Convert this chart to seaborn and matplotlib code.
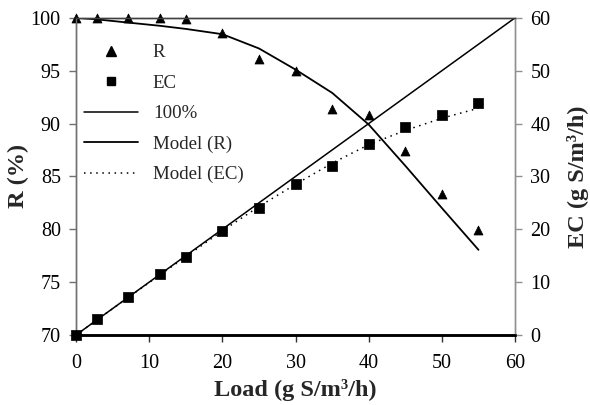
import matplotlib
matplotlib.use("Agg")
import matplotlib.pyplot as plt
import seaborn as sns
import pandas as pd
from matplotlib.lines import Line2D

load = [0, 2.9, 7.1, 11.4, 15, 20, 25, 30, 35, 40, 45, 50, 55]
r_obs = [100, 100, 100, 100, 99.9, 98.6, 96.1, 95.0, 91.4, 90.8, 87.4, 83.3, 79.9]
ec_obs = [0, 3.0, 7.2, 11.5, 14.8, 19.6, 24.1, 28.5, 32.0, 36.2, 39.4, 41.6, 43.8]
model_r = [100, 99.85, 99.55, 99.25, 98.95, 98.45, 97.1, 95.1, 92.9, 89.9, 86.0, 82.0, 78.05]
model_ec = [0, 2.9, 7.07, 11.3, 14.8, 19.7, 24.3, 28.5, 32.5, 36.0, 38.7, 41.0, 42.9]
line100_x = [0, 60]
line100_y = [0, 60]

sns.set_style("white")
plt.rcParams['font.family'] = ['Liberation Serif', 'DejaVu Serif']

df = pd.DataFrame({"load": load, "r": r_obs, "ec": ec_obs, "mr": model_r, "mec": model_ec})

fig, ax = plt.subplots(figsize=(5.9, 4.05), dpi=100)
fig.subplots_adjust(left=0.129, right=0.873, bottom=0.173, top=0.956)
ax2 = ax.twinx()

sns.lineplot(data=df, x="load", y="mr", ax=ax, color="black", lw=1.3, legend=False)
sns.scatterplot(data=df, x="load", y="r", ax=ax, marker="^", s=42, color="black",
                edgecolor="black", legend=False, zorder=5, clip_on=False)

sns.lineplot(x=line100_x, y=line100_y, ax=ax2, color="black", lw=1.1, legend=False)
sns.lineplot(data=df, x="load", y="mec", ax=ax2, color="black", lw=1.1,
             linestyle=(0, (1, 3)), legend=False)
sns.scatterplot(data=df, x="load", y="ec", ax=ax2, marker="s", s=42, color="black",
                edgecolor="black", legend=False, zorder=5, clip_on=False)

ax.set_xlim(0, 60)
ax.set_ylim(70, 100)
ax2.set_ylim(0, 60)
ax.set_xticks(range(0, 61, 10))
ax.set_yticks(range(70, 101, 5))
ax2.set_yticks(range(0, 61, 10))

ax.set_xlabel("Load (g S/m³/h)", fontsize=17.5, fontweight="bold", labelpad=4)
ax.set_ylabel("R (%)", fontsize=17.5, fontweight="bold", labelpad=1)
ax2.set_ylabel("EC (g S/m³/h)", fontsize=17.5, fontweight="bold", labelpad=12)

for a in (ax, ax2):
    for s in a.spines.values():
        s.set_linewidth(1.0)
    a.spines["left"].set_color("#707070")
    a.spines["right"].set_color("#909090")
    a.spines["top"].set_color("#404040")
    a.spines["bottom"].set_color("black")
    a.spines["bottom"].set_linewidth(1.8)

ax.tick_params(axis="x", direction="out", length=5, width=1, labelsize=14.5, pad=9,
               bottom=True, color="#303030", labelcolor="black")
ax.tick_params(axis="y", direction="out", length=5, width=1, labelsize=14.5, pad=6,
               left=True, color="#707070", labelcolor="black")
ax2.tick_params(axis="y", direction="out", length=5, width=1, labelsize=14.5, pad=6,
                right=True, color="#909090", labelcolor="black")

handles = [
    Line2D([], [], marker="^", color="black", lw=0, markersize=7),
    Line2D([], [], marker="s", color="black", lw=0, markersize=6),
    Line2D([], [], color="black", lw=1.1),
    Line2D([], [], color="black", lw=1.3),
    Line2D([], [], color="black", lw=1.1, linestyle=(0, (1, 3))),
]
labels = ["R", "EC", "100%", "Model (R)", "Model (EC)"]
ax.legend(handles, labels, loc="upper left", bbox_to_anchor=(0.0, 0.941), borderaxespad=0,
          frameon=False, fontsize=13.6, handlelength=2.86, handletextpad=0.8,
          labelspacing=0.7)

fig.savefig("out.png", dpi=100)
